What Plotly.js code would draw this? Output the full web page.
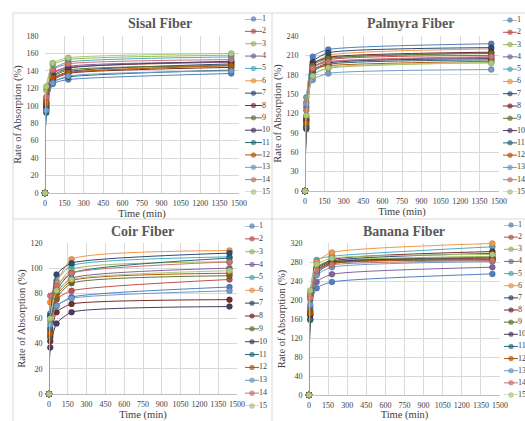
<!DOCTYPE html>
<html><head><meta charset="utf-8">
<script src="https://cdn.plot.ly/plotly-3.0.1.min.js"></script>
<style>html,body{margin:0;padding:0;background:#fff}#chart{width:525px;height:421px}</style>
</head><body><div id="chart"></div>
<script>
// ---- data ----
const times = [0, 10, 60, 180, 1440];
const seriesNames = ['1','2','3','4','5','6','7','8','9','10','11','12','13','14','15'];
const colors = ['#4F81BD','#C0504D','#9BBB59','#8064A2','#4BACC6','#F79646','#2C4D75','#772C2A','#5F7530','#4D3B62','#276A7C','#B65708','#729ACA','#CD7371','#AFC97A'];
const panelTitles = ['Sisal Fiber','Palmyra Fiber','Coir Fiber','Banana Fiber'];
const xTitle = 'Time (min)';
const yTitle = 'Rate of Absorption (%)';

const sisal = [
  [0, 95, 125, 130, 137],
  [0, 108, 138, 144, 150],
  [0, 118, 147, 153, 158],
  [0, 105, 136, 145, 150],
  [0, 100, 142, 150, 156],
  [0, 103, 131, 138, 147],
  [0, 98, 130, 139, 148],
  [0, 102, 129, 137, 144],
  [0, 100, 133, 141, 146],
  [0, 97, 134, 143, 151],
  [0, 92, 127, 133, 141],
  [0, 104, 132, 138, 146],
  [0, 95, 126, 134, 140],
  [0, 110, 141, 148, 153],
  [0, 122, 149, 155, 160]
];
const palmyra = [
  [0, 130, 208, 219, 228],
  [0, 112, 190, 203, 210],
  [0, 102, 180, 190, 199],
  [0, 108, 192, 200, 207],
  [0, 145, 198, 206, 214],
  [0, 138, 195, 210, 220],
  [0, 98, 200, 214, 222],
  [0, 110, 196, 207, 215],
  [0, 115, 194, 205, 213],
  [0, 96, 186, 198, 205],
  [0, 100, 184, 196, 203],
  [0, 105, 188, 194, 201],
  [0, 135, 172, 182, 188],
  [0, 125, 190, 200, 208],
  [0, 117, 178, 191, 198]
];
const coir = [
  [0, 64, 70, 77, 85],
  [0, 50, 75, 82, 91],
  [0, 58, 84, 99, 105],
  [0, 45, 80, 92, 100],
  [0, 62, 90, 102, 109],
  [0, 73, 88, 107, 114],
  [0, 62, 95, 104, 112],
  [0, 42, 65, 71.5, 75],
  [0, 46, 76, 88, 94],
  [0, 37, 56, 65, 69.5],
  [0, 52, 82, 96, 108],
  [0, 48, 78, 90, 96],
  [0, 55, 70, 76, 82],
  [0, 78, 86, 96, 105],
  [0, 60, 82, 91, 98]
];
const banana = [
  [0, 185, 225, 238, 255],
  [0, 208, 262, 278, 288],
  [0, 200, 270, 282, 292],
  [0, 175, 238, 254, 269],
  [0, 215, 284, 292, 312],
  [0, 210, 280, 300, 319],
  [0, 170, 262, 282, 298],
  [0, 168, 265, 285, 302],
  [0, 178, 268, 280, 290],
  [0, 160, 258, 279, 286],
  [0, 158, 255, 276, 284],
  [0, 172, 260, 277, 285],
  [0, 190, 252, 269, 281],
  [0, 205, 262, 274, 283],
  [0, 220, 275, 288, 296]
];
const yMax = [180, 240, 120, 320];
const yStep = [20, 30, 20, 40];

// ---- layout geometry (pixels) ----
const W = 525, H = 421;
const px = x => x / W, py = y => 1 - y / H;
const geom = [
  {x0:45, x1:239, yb:193, yt:36, lx0:245, lx1:262, ly0:19, ly1:192, tx:160, ty:24},
  {x0:305, x1:499, yb:191, yt:36, lx0:503, lx1:517, ly0:20, ly1:192, tx:410, ty:24},
  {x0:49, x1:237, yb:394, yt:243, lx0:245, lx1:259, ly0:226, ly1:406, tx:142, ty:232},
  {x0:309, x1:500, yb:395, yt:243, lx0:504, lx1:518, ly0:225, ly1:395, tx:404, ty:231}
];
const datasets = [sisal, palmyra, coir, banana];
const FONT = 'Liberation Serif, Times New Roman, serif';
const TXT = '#404040';
const GRID = '#d9d9d9';

const traces = [];
const layout = {
  width: W, height: H, margin: {l:0, r:0, t:0, b:0},
  showlegend: false, paper_bgcolor: '#fff', plot_bgcolor: 'rgba(0,0,0,0)',
  font: {family: FONT, color: TXT},
  annotations: [], shapes: []
};

datasets.forEach((data, k) => {
  const g = geom[k];
  const n1 = 2*k + 1, n2 = 2*k + 2;
  const xa = 'x' + n1, ya = 'y' + n1, lxa = 'x' + n2, lya = 'y' + n2;
  data.forEach((vals, i) => {
    traces.push({
      type: 'scatter', mode: 'lines+markers', x: times, y: vals,
      xaxis: xa, yaxis: ya, name: seriesNames[i],
      line: {color: colors[i], width: 1, shape: 'spline', smoothing: 0.55},
      marker: {color: colors[i], size: 6, line: {color: 'rgba(0,0,0,0.3)', width: 0.5}},
      cliponaxis: false, hoverinfo: 'skip'
    });
  });
  seriesNames.forEach((nm, i) => {
    traces.push({
      type: 'scatter', mode: 'lines+markers+text',
      x: [0, 0.5, 1], y: [i + 1, i + 1, i + 1],
      xaxis: lxa, yaxis: lya, text: ['', '', nm], textposition: 'middle right',
      textfont: {family: FONT, size: 8, color: TXT},
      line: {color: colors[i], width: 1},
      marker: {color: colors[i], size: [0, 5, 0], line: {color: 'rgba(0,0,0,0.3)', width: 0.5}},
      cliponaxis: false, hoverinfo: 'skip'
    });
  });
  layout['xaxis' + (n1 === 1 ? '' : n1)] = {
    domain: [px(g.x0), px(g.x1)], anchor: ya, range: [0, 1500],
    tickmode: 'linear', tick0: 0, dtick: 150,
    showgrid: true, gridcolor: GRID, gridwidth: 1, zeroline: false,
    showline: true, linecolor: '#bfbfbf', linewidth: 1,
    ticks: 'outside', ticklen: 2, tickcolor: 'rgba(0,0,0,0)',
    tickfont: {family: FONT, size: 8, color: TXT},
    title: {text: xTitle, font: {family: FONT, size: 10.5, color: TXT}, standoff: 1},
    fixedrange: true, automargin: false
  };
  layout['yaxis' + n1] = {
    domain: [py(g.yb), py(g.yt)], anchor: xa, range: [0, yMax[k]],
    tickmode: 'linear', tick0: 0, dtick: yStep[k],
    showgrid: true, gridcolor: GRID, gridwidth: 1, zeroline: false, showline: false,
    ticks: 'outside', ticklen: 4, tickcolor: 'rgba(0,0,0,0)',
    tickfont: {family: FONT, size: 8, color: TXT},
    title: {text: yTitle, font: {family: FONT, size: 10.5, color: TXT}, standoff: 2},
    fixedrange: true, automargin: false
  };
  layout['xaxis' + n2] = {domain: [px(g.lx0), px(g.lx1)], anchor: lya, range: [0, 1], visible: false, fixedrange: true};
  layout['yaxis' + n2] = {domain: [py(g.ly1), py(g.ly0)], anchor: lxa, range: [15, 1], visible: false, fixedrange: true};
  layout.annotations.push({
    text: '<b>' + panelTitles[k] + '</b>', xref: 'paper', yref: 'paper',
    x: px(g.tx), y: py(g.ty), xanchor: 'center', yanchor: 'middle', showarrow: false,
    font: {family: FONT, size: 14, color: '#595959'}
  });
});

[[13,13,525,13],[13,219,525,219],[13,13,13,421],[272,13,272,421]].forEach(s => {
  layout.shapes.push({type:'line', xref:'paper', yref:'paper', x0:px(s[0]), y0:py(s[1]), x1:px(s[2]), y1:py(s[3]), line:{color:GRID, width:1}});
});

Plotly.newPlot('chart', traces, layout, {staticPlot: true, displayModeBar: false});
</script>
</body></html>
